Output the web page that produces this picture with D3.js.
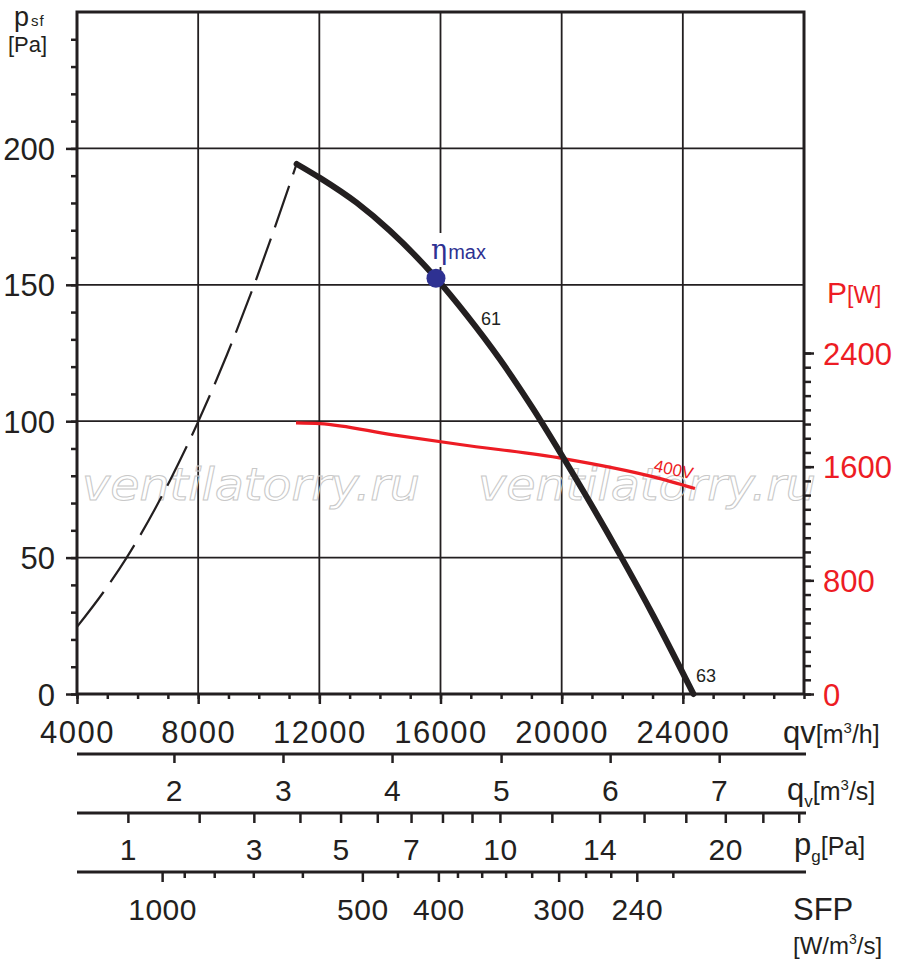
<!DOCTYPE html>
<html>
<head>
<meta charset="utf-8">
<script src="https://cdn.jsdelivr.net/npm/d3@7"></script>
<style>
  body { margin: 0; background: #ffffff; }
  svg text { font-family: "Liberation Sans", Arial, sans-serif; }
</style>
</head>
<body>
<div id="chart"></div>
<script>
const WIDTH = 900;
const HEIGHT = 967;

const LEFT = 77;
const RIGHT = 804;
const TOP = 12;
const BOTTOM = 694;

const INK = "#231f20";
const RED = "#ed1c24";
const BLUE = "#2e3192";

// unstable part of the fan curve (dashed), qv [m3/h] / psf [Pa]
const stallQv = [4000, 4870, 5640, 7070, 8000, 8940, 9930, 11250];
const stallPsf = [24.6, 37.3, 50.0, 78.3, 99.8, 124.1, 152.4, 194.3];

// working part of the fan curve (thick)
const fanQv = [11250, 12020, 13230, 14330, 15850, 16870, 17960, 19060, 20000, 20940, 21930, 23030, 24350];
const fanPsf = [194.3, 189.2, 180.1, 169.8, 152.5, 138.8, 122.7, 104.5, 87.6, 70.1, 50.9, 28.6, 0];

// power input 400V, P [W]
const powerQv = [11230, 12020, 14430, 16640, 20050, 23030, 24400];
const powerW = [1908, 1903, 1824, 1756, 1657, 1528, 1446];

// best efficiency point
const etaQv = 15850;
const etaPsf = 152.4;

// tick values
const qvTicks = [4000, 8000, 12000, 16000, 20000, 24000];
const psfTicks = [0, 50, 100, 150, 200];
const powerTicks = [0, 800, 1600, 2400];
const qvsTicks = [2, 3, 4, 5, 6, 7];
const pgTicks = [1, 2, 3, 4, 5, 6, 7, 8, 9, 10, 12, 14, 16, 18, 20, 22, 24];
const pgLabels = [1, 3, 5, 7, 10, 14, 20];
const PG1_QV = 5680; // flow at which pg = 1 Pa
const sfpTickQv = [6810, 7540, 8530, 9820, 11440, 13420, 14580, 15930, 16560, 17360, 18150, 19010, 19900, 20790, 21620, 22480, 23670];
const sfpLabels = ["1000", "", "", "", "", "500", "", "400", "", "", "", "", "300", "", "", "240", ""];

const svg = d3.select("#chart")
  .append("svg")
  .attr("width", WIDTH)
  .attr("height", HEIGHT)
  .style("background-color", "#ffffff");

// scales
const x = d3.scaleLinear().domain([4000, 28000]).range([LEFT, RIGHT]);
const y = d3.scaleLinear().domain([0, 250]).range([BOTTOM, TOP]);
const yP = d3.scaleLinear().domain([0, 4800]).range([BOTTOM, TOP]);
const xs = d3.scaleLinear().domain([4000 / 3600, 28000 / 3600]).range([LEFT, RIGHT]);
const xPg = d3.scaleSqrt()
  .domain([(4000 / PG1_QV) ** 2, (28000 / PG1_QV) ** 2])
  .range([LEFT, RIGHT]);

// grid
svg.append("g")
  .selectAll("line")
  .data(qvTicks.slice(1))
  .enter()
  .append("line")
  .attr("x1", d => x(d)).attr("x2", d => x(d))
  .attr("y1", TOP).attr("y2", BOTTOM)
  .attr("stroke", INK).attr("stroke-width", 1.8);

svg.append("g")
  .selectAll("line")
  .data(psfTicks.slice(1))
  .enter()
  .append("line")
  .attr("x1", LEFT).attr("x2", RIGHT)
  .attr("y1", d => y(d)).attr("y2", d => y(d))
  .attr("stroke", INK).attr("stroke-width", 1.8);

// watermark
[82, 478].forEach(wx => {
  svg.append("text")
    .attr("x", wx).attr("y", 500)
    .attr("textLength", 338)
    .attr("lengthAdjust", "spacingAndGlyphs")
    .style("font-family", "'DejaVu Sans', sans-serif")
    .style("font-style", "italic")
    .style("font-size", "45px")
    .attr("fill", "none")
    .attr("stroke", "#c8c8c8")
    .attr("stroke-width", 1)
    .text("ventilatorry.ru");
});

// white box behind eta label (cuts the grid line)
svg.append("rect")
  .attr("x", x(etaQv) - 8).attr("y", 233)
  .attr("width", 62).attr("height", 34)
  .attr("fill", "#ffffff");

// curves
const line = d3.line()
  .x(d => x(d[0]))
  .y(d => y(d[1]))
  .curve(d3.curveMonotoneX);

const powerLine = d3.line()
  .x(d => x(d[0]))
  .y(d => yP(d[1]))
  .curve(d3.curveMonotoneX);

svg.append("path")
  .datum(d3.zip(stallQv, stallPsf))
  .attr("d", line)
  .attr("fill", "none")
  .attr("stroke", INK)
  .attr("stroke-width", 2.2)
  .attr("stroke-dasharray", "44,12");

svg.append("path")
  .datum(d3.zip(powerQv, powerW))
  .attr("d", powerLine)
  .attr("fill", "none")
  .attr("stroke", RED)
  .attr("stroke-width", 3.2);

svg.append("path")
  .datum(d3.zip(fanQv, fanPsf))
  .attr("d", line)
  .attr("fill", "none")
  .attr("stroke", INK)
  .attr("stroke-width", 6)
  .attr("stroke-linecap", "round");

svg.append("circle")
  .attr("cx", x(etaQv)).attr("cy", y(etaPsf))
  .attr("r", 9.5)
  .attr("fill", BLUE);

// curve labels
const eta = svg.append("text").attr("x", 431).attr("y", 259).attr("fill", BLUE);
eta.append("tspan").style("font-family", "'DejaVu Serif', serif").style("font-size", "27px").text("η");
eta.append("tspan").attr("dx", 1).style("font-size", "20px").text("max");

svg.append("text").attr("x", 481).attr("y", 325).attr("fill", INK).style("font-size", "18px").text("61");
svg.append("text").attr("x", 696).attr("y", 682).attr("fill", INK).style("font-size", "18px").text("63");
svg.append("text")
  .attr("transform", "translate(653,471) rotate(12)")
  .attr("fill", RED)
  .style("font-size", "17px")
  .text("400V");

// frame
svg.append("rect")
  .attr("x", LEFT).attr("y", TOP)
  .attr("width", RIGHT - LEFT).attr("height", BOTTOM - TOP)
  .attr("fill", "none")
  .attr("stroke", INK)
  .attr("stroke-width", 3);

function styleAxis(g, color) {
  g.select(".domain").remove();
  g.selectAll(".tick line").attr("stroke", color).attr("stroke-width", 2.5);
  g.selectAll(".tick text").attr("fill", color).attr("font-family", null).attr("font-size", null);
}

// left axis
svg.append("g")
  .attr("transform", "translate(" + LEFT + ",0)")
  .call(d3.axisLeft(y).tickValues(d3.range(0, 241, 10)).tickSize(6).tickFormat(""))
  .call(g => styleAxis(g, INK));

svg.append("g")
  .attr("transform", "translate(" + LEFT + ",0)")
  .call(d3.axisLeft(y).tickValues(psfTicks).tickSize(11).tickFormat(d3.format("d")))
  .call(g => styleAxis(g, INK))
  .call(g => g.selectAll(".tick text").attr("x", -22).attr("dy", "0.36em").style("font-size", "31px"));

// right axis (power)
svg.append("g")
  .attr("transform", "translate(" + RIGHT + ",0)")
  .call(d3.axisRight(yP).tickValues(d3.range(0, 2401, 100)).tickSize(7).tickFormat(""))
  .call(g => styleAxis(g, INK));

svg.append("g")
  .attr("transform", "translate(" + RIGHT + ",0)")
  .call(d3.axisRight(yP).tickValues(powerTicks).tickSize(10).tickFormat(d3.format("d")))
  .call(g => styleAxis(g, INK))
  .call(g => g.selectAll(".tick text").attr("x", 19).attr("dy", "0.36em").attr("fill", RED).style("font-size", "31px"));

// bottom axis qv m3/h
svg.append("g")
  .attr("transform", "translate(0," + BOTTOM + ")")
  .call(d3.axisBottom(x).tickValues(d3.range(4000, 28001, 1000)).tickSize(5).tickFormat(""))
  .call(g => styleAxis(g, INK));

svg.append("g")
  .attr("transform", "translate(0," + BOTTOM + ")")
  .call(d3.axisBottom(x).tickValues(qvTicks).tickSize(10).tickFormat(d3.format("d")))
  .call(g => styleAxis(g, INK))
  .call(g => g.selectAll(".tick text").attr("y", 49).attr("dy", 0)
    .style("font-size", "31px").style("letter-spacing", "1.5px"));

// extra scale rows under the chart
function scaleRow(yPos, axis, labelY, tickLen) {
  const g = svg.append("g")
    .attr("transform", "translate(0," + yPos + ")")
    .call(axis.tickSizeOuter(0));
  g.select(".domain").attr("stroke", INK).attr("stroke-width", 3).attr("d", "M" + LEFT + ",0H" + (RIGHT + 2));
  g.selectAll(".tick line").attr("stroke", INK).attr("stroke-width", 2.5);
  if (tickLen) g.selectAll(".tick line").attr("y2", tickLen);
  g.selectAll(".tick text")
    .attr("fill", INK).attr("font-family", null).attr("font-size", null)
    .attr("y", labelY).attr("dy", 0)
    .style("font-size", "30px").style("letter-spacing", "0.5px");
  return g;
}

scaleRow(754, d3.axisBottom(xs).tickValues(qvsTicks).tickSize(9).tickFormat(d3.format("d")), 47);
scaleRow(813, d3.axisBottom(xPg).tickValues(pgTicks).tickSize(10)
  .tickFormat(d => pgLabels.includes(d) ? d : ""), 47);
scaleRow(872, d3.axisBottom(x).tickValues(sfpTickQv).tickSize(10)
  .tickFormat((d, i) => sfpLabels[i]), 48, (d, i) => sfpLabels[i] ? 10 : 6);

// unit labels
const unitL = svg.append("text").attr("x", 14).attr("y", 26).attr("fill", INK);
unitL.append("tspan").style("font-size", "27px").text("p");
unitL.append("tspan").attr("dx", 2).style("font-size", "15px").style("letter-spacing", "1px").text("sf");
svg.append("text").attr("x", 8).attr("y", 52).attr("fill", INK).style("font-size", "22px").text("[Pa]");

const unitP = svg.append("text").attr("x", 827).attr("y", 303).attr("fill", RED);
unitP.append("tspan").style("font-size", "30px").text("P");
unitP.append("tspan").style("font-size", "23px").text("[W]");

const u1 = svg.append("text").attr("x", 783).attr("y", 743).attr("fill", INK);
u1.append("tspan").style("font-size", "31px").text("qv");
u1.append("tspan").style("font-size", "25px").text("[m");
u1.append("tspan").attr("dy", -10).style("font-size", "15px").text("3");
u1.append("tspan").attr("dy", 10).style("font-size", "25px").text("/h]");

const u2 = svg.append("text").attr("x", 787).attr("y", 800).attr("fill", INK);
u2.append("tspan").style("font-size", "31px").text("q");
u2.append("tspan").attr("dy", 7).style("font-size", "17px").text("v");
u2.append("tspan").attr("dy", -7).style("font-size", "25px").text("[m");
u2.append("tspan").attr("dy", -10).style("font-size", "15px").text("3");
u2.append("tspan").attr("dy", 10).style("font-size", "25px").text("/s]");

const u3 = svg.append("text").attr("x", 794).attr("y", 855).attr("fill", INK);
u3.append("tspan").style("font-size", "31px").text("p");
u3.append("tspan").attr("dy", 7).style("font-size", "17px").text("g");
u3.append("tspan").attr("dy", -7).style("font-size", "25px").text("[Pa]");

svg.append("text").attr("x", 793).attr("y", 920).attr("fill", INK).style("font-size", "31px").text("SFP");
const u4 = svg.append("text").attr("x", 793).attr("y", 954).attr("fill", INK);
u4.append("tspan").style("font-size", "24px").text("[W/m");
u4.append("tspan").attr("dy", -10).style("font-size", "14px").text("3");
u4.append("tspan").attr("dy", 10).style("font-size", "24px").text("/s]");
</script>
</body>
</html>
